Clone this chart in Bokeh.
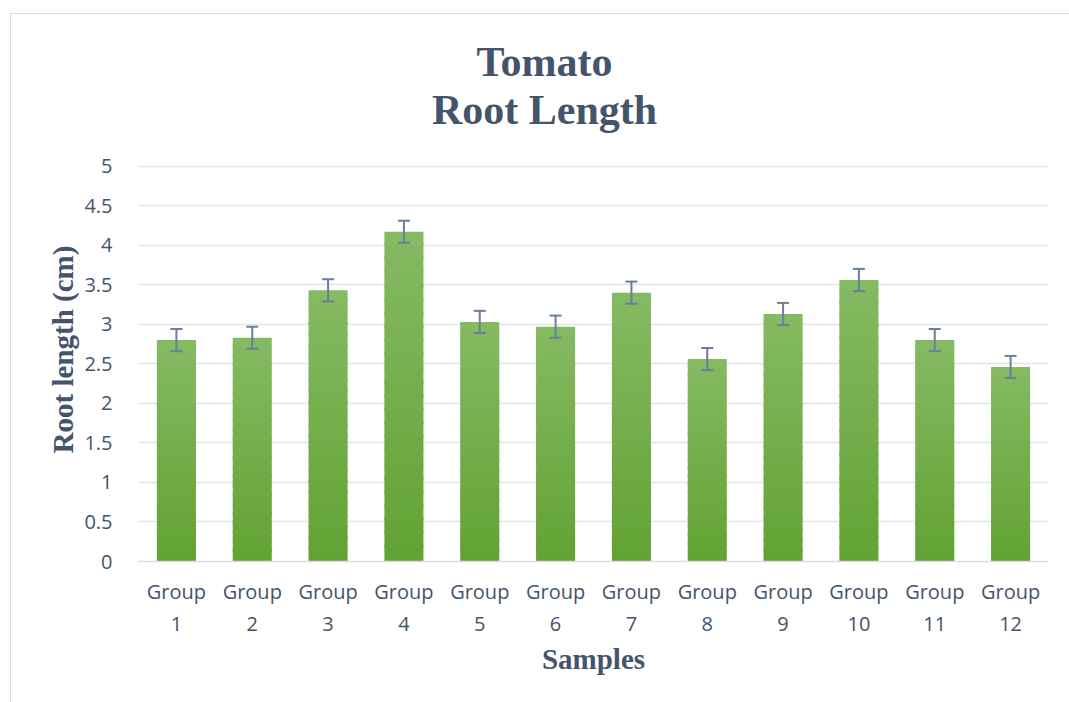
from bokeh.plotting import figure
from bokeh.models import ColumnDataSource, Whisker, TeeHead, Label, FixedTicker, Range1d
from bokeh.embed import file_html
from bokeh.resources import INLINE

groups = ["Group\n1", "Group\n2", "Group\n3", "Group\n4", "Group\n5", "Group\n6",
          "Group\n7", "Group\n8", "Group\n9", "Group\n10", "Group\n11", "Group\n12"]
root_length = [2.80, 2.83, 3.43, 4.17, 3.03, 2.97, 3.40, 2.56, 3.13, 3.56, 2.80, 2.46]
error = [0.14, 0.14, 0.14, 0.14, 0.14, 0.14, 0.14, 0.14, 0.14, 0.14, 0.14, 0.14]
y_ticks = [0, 0.5, 1, 1.5, 2, 2.5, 3, 3.5, 4, 4.5, 5]
title_lines = ["Tomato", "Root Length"]

TXT = "#44546a"

# frame extends above the 5 gridline so the title labels (screen units) are drawn inside it
p = figure(x_range=groups, y_range=Range1d(0, 6.829), width=1059, height=689,
           output_backend="svg", toolbar_location=None,
           min_border_left=127, min_border_right=22, min_border_top=7, min_border_bottom=142)
p.margin = (13, 0, 0, 10)
p.styles = {"border-left": "1px solid #d9dde3", "border-top": "1px solid #d9dde3"}
p.outline_line_color = None
p.background_fill_color = "white"
p.border_fill_color = "white"

# gradient bars: stacked slices from each bar's own value
n = 24
top_c = (0x85, 0xba, 0x63)
bot_c = (0x62, 0xa2, 0x33)
for i in range(n):
    t = (i + 0.5) / n
    c = tuple(int(round(bot_c[k] + (top_c[k] - bot_c[k]) * t)) for k in range(3))
    col = "#%02x%02x%02x" % c
    src = ColumnDataSource(dict(x=groups,
                                b=[v * i / n for v in root_length],
                                t=[min(v, v * (i + 1) / n + 0.03) for v in root_length]))
    p.vbar(x="x", bottom="b", top="t", width=0.515, source=src,
           fill_color=col, line_color=None)

esrc = ColumnDataSource(dict(x=groups,
                             upper=[v + e for v, e in zip(root_length, error)],
                             lower=[v - e for v, e in zip(root_length, error)]))
w = Whisker(base="x", upper="upper", lower="lower", source=esrc,
            line_color="#6a7f9e", line_width=2, level="overlay",
            upper_head=TeeHead(size=12, line_color="#6a7f9e", line_width=2),
            lower_head=TeeHead(size=12, line_color="#6a7f9e", line_width=2))
p.add_layout(w)

for txt, ys in zip(title_lines, [500, 452]):
    p.add_layout(Label(x=406, y=ys, x_units="screen", y_units="screen", text=txt,
                       text_align="center", text_baseline="middle",
                       text_font="Liberation Serif", text_font_size="42px",
                       text_font_style="bold", text_color=TXT))

p.xgrid.grid_line_color = None
p.ygrid.grid_line_color = "#e1e4e9"
p.ygrid.grid_line_width = 1.5
p.yaxis.ticker = FixedTicker(ticks=y_ticks)
p.yaxis.major_label_overrides = {0: "0", 0.5: "0.5", 1: "1", 1.5: "1.5", 2: "2", 2.5: "2.5",
                                 3: "3", 3.5: "3.5", 4: "4", 4.5: "4.5", 5: "5"}

for ax in (p.xaxis, p.yaxis):
    ax.major_tick_line_color = None
    ax.minor_tick_line_color = None
    ax.major_label_text_font = "Open Sans"
    ax.major_label_text_font_size = "20px"
    ax.major_label_text_color = TXT
    ax.axis_label_text_font = "Liberation Serif"
    ax.axis_label_text_font_size = "29px"
    ax.axis_label_text_font_style = "bold"
    ax.axis_label_text_color = TXT
p.yaxis.axis_line_color = None
p.xaxis.axis_line_color = "#d9dde3"
p.xaxis.axis_line_width = 1.5
p.yaxis.major_label_standoff = 20
p.xaxis.major_label_standoff = 10
p.xaxis.axis_label = "Samples"
p.yaxis.axis_label = "Root length (cm)" + "\u00a0" * 16
p.xaxis.axis_label_standoff = 3
p.yaxis.axis_label_standoff = 2

open("out.html", "w").write(file_html(p, INLINE))
